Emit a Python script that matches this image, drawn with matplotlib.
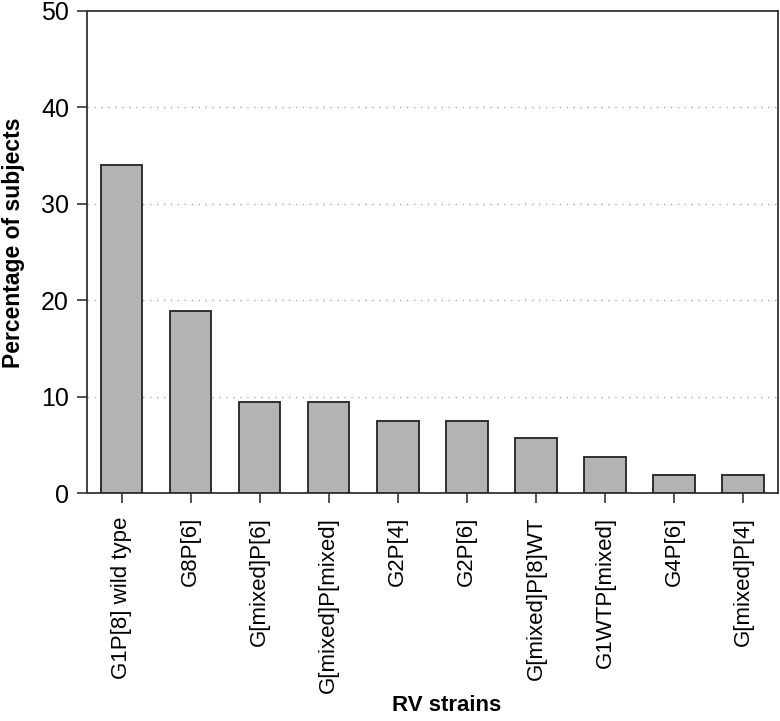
import matplotlib
matplotlib.use("Agg")
import matplotlib.pyplot as plt

plt.rcParams['font.family'] = ['Liberation Sans', 'DejaVu Sans']

strains = ["G1P[8] wild type", "G8P[6]", "G[mixed]P[6]", "G[mixed]P[mixed]",
           "G2P[4]", "G2P[6]", "G[mixed]P[8]WT", "G1WTP[mixed]", "G4P[6]",
           "G[mixed]P[4]"]
percent = [34.0, 18.9, 9.4, 9.4, 7.5, 7.5, 5.7, 3.8, 1.9, 1.9]

fig = plt.figure(figsize=(7.8, 7.21), dpi=100)
ax = fig.add_axes([0.1115, 0.316, 0.8855, 0.669])

x = range(len(strains))
ax.bar(x, percent, width=0.6, color="#b3b3b3", edgecolor="#222222", linewidth=1.3, zorder=3)

ax.set_xlim(-0.5, 9.5)
ax.set_ylim(0, 50)
ax.set_yticks([0, 10, 20, 30, 40, 50])
ax.set_xticks(list(x))
ax.set_xticklabels(strains, rotation=90, fontsize=16)
ax.tick_params(axis='y', labelsize=18, direction='out', length=7, width=1.2, pad=6,
               color="#333333")
ax.tick_params(axis='x', direction='out', length=7, width=1.2, pad=10, color="#333333")

# dotted grid lines
for g in [10, 20, 30, 40]:
    ax.axhline(g, color="#aaaaaa", linestyle=(0, (1, 4)), linewidth=1, zorder=1)

for s in ax.spines.values():
    s.set_linewidth(1.3)
    s.set_color("#333333")

ax.set_ylabel("Percentage of subjects", fontsize=16.5, fontweight="bold")
ax.yaxis.set_label_coords(-0.09, 0.52)
ax.set_xlabel("RV strains", fontsize=16, fontweight="bold")
ax.xaxis.set_label_coords(0.52, -0.418)

fig.savefig("out.png", dpi=100)
